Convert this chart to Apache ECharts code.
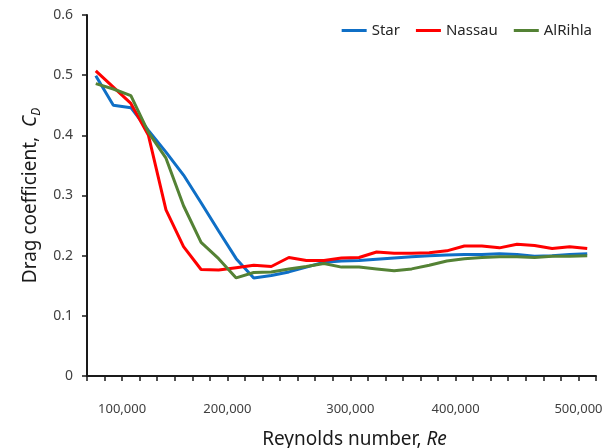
<!DOCTYPE html>
<html>
<head>
<meta charset="utf-8">
<script src="https://cdn.jsdelivr.net/npm/echarts@6/dist/echarts.min.js"></script>
<style>
  html, body { margin: 0; padding: 0; background: #fff; }
  #chart { width: 609px; height: 448px; }
</style>
</head>
<body>
<div id="chart"></div>
<script>
// 29 measurement points, evenly spaced along the category axis
const star = [0.499, 0.450, 0.446, 0.408, 0.372, 0.334, 0.288, 0.241, 0.195, 0.163,
  0.167, 0.173, 0.181, 0.189, 0.191, 0.192, 0.194, 0.196, 0.198, 0.200,
  0.201, 0.202, 0.202, 0.203, 0.202, 0.199, 0.200, 0.202, 0.203];
const nassau = [0.507, 0.480, 0.453, 0.400, 0.276, 0.215, 0.177, 0.176, 0.180, 0.184,
  0.182, 0.197, 0.192, 0.192, 0.196, 0.197, 0.206, 0.204, 0.204, 0.205,
  0.208, 0.216, 0.216, 0.213, 0.219, 0.217, 0.212, 0.215, 0.212];
const alrihla = [0.486, 0.477, 0.466, 0.405, 0.362, 0.283, 0.222, 0.195, 0.163, 0.172,
  0.173, 0.178, 0.182, 0.187, 0.181, 0.181, 0.178, 0.175, 0.178, 0.184,
  0.191, 0.195, 0.197, 0.198, 0.198, 0.197, 0.199, 0.199, 0.200];

// x tick labels sit on the boundaries between categories
const reTickPos = [2, 8, 15, 21, 28];
const reTickLabels = ['100,000', '200,000', '300,000', '400,000', '500,000'];

const seriesNames = ['Star', 'Nassau', 'AlRihla'];
const seriesColors = ['#0F6FC6', '#FF0000', '#548235'];

const font = '"Noto Sans", "Open Sans", sans-serif';

const chart = echarts.init(document.getElementById('chart'));

const toPoints = (arr) => arr.map((v, i) => [i + 0.5, v]);

const option = {
  animation: false,
  textStyle: { fontFamily: font },
  grid: { left: 87, right: 13, top: 15, bottom: 72, containLabel: false, outerBoundsMode: 'none' },
  legend: {
    top: 18,
    right: 12,
    icon: 'rect',
    itemWidth: 25,
    itemHeight: 3,
    itemGap: 16,
    textStyle: { fontSize: 15, color: '#262626', fontFamily: font },
    data: seriesNames,
  },
  xAxis: {
    type: 'value',
    min: 0,
    max: star.length,
    interval: 1,
    name: 'Reynolds number, {i|Re}',
    nameLocation: 'middle',
    nameGap: 54,
    nameTextStyle: {
      fontSize: 19,
      color: '#1a1a1a',
      padding: [0, 0, 0, 26],
      rich: { i: { fontSize: 19, fontStyle: 'italic', color: '#1a1a1a' } },
    },
    axisLine: { lineStyle: { color: '#1a1a1a', width: 2 } },
    axisTick: { length: 5, lineStyle: { color: '#1a1a1a', width: 1.5 } },
    axisLabel: {
      margin: 27,
      fontSize: 13,
      color: '#404040',
      showMinLabel: true,
      showMaxLabel: true,
      formatter: (val) => {
        const k = reTickPos.indexOf(Math.round(val));
        return k >= 0 ? reTickLabels[k] : '';
      },
    },
    splitLine: { show: false },
  },
  yAxis: {
    type: 'value',
    min: 0,
    max: 0.6,
    interval: 0.1,
    name: 'Drag coefficient,  {i|C}{sub|D}',
    nameLocation: 'middle',
    nameGap: 36,
    nameRotate: 90,
    nameTextStyle: {
      fontSize: 19,
      color: '#1a1a1a',
      lineHeight: 24,
      verticalAlign: 'middle',
      rich: {
        i: { fontSize: 19, fontStyle: 'italic', color: '#1a1a1a', lineHeight: 24 },
        sub: { fontSize: 12, fontStyle: 'italic', color: '#1a1a1a', verticalAlign: 'bottom', lineHeight: 24 },
      },
    },
    axisLine: { show: true, lineStyle: { color: '#1a1a1a', width: 2 } },
    axisTick: { show: true, length: 5, lineStyle: { color: '#1a1a1a', width: 1.5 } },
    axisLabel: {
      margin: 14,
      fontSize: 14,
      color: '#404040',
      formatter: (v) => (v === 0 ? '0' : v.toFixed(1)),
    },
    splitLine: { show: false },
  },
  series: [star, nassau, alrihla].map((d, i) => ({
    name: seriesNames[i],
    type: 'line',
    data: toPoints(d),
    symbol: 'none',
    lineStyle: { width: 3, color: seriesColors[i] },
    itemStyle: { color: seriesColors[i] },
  })),
};

chart.setOption(option);
</script>
</body>
</html>
